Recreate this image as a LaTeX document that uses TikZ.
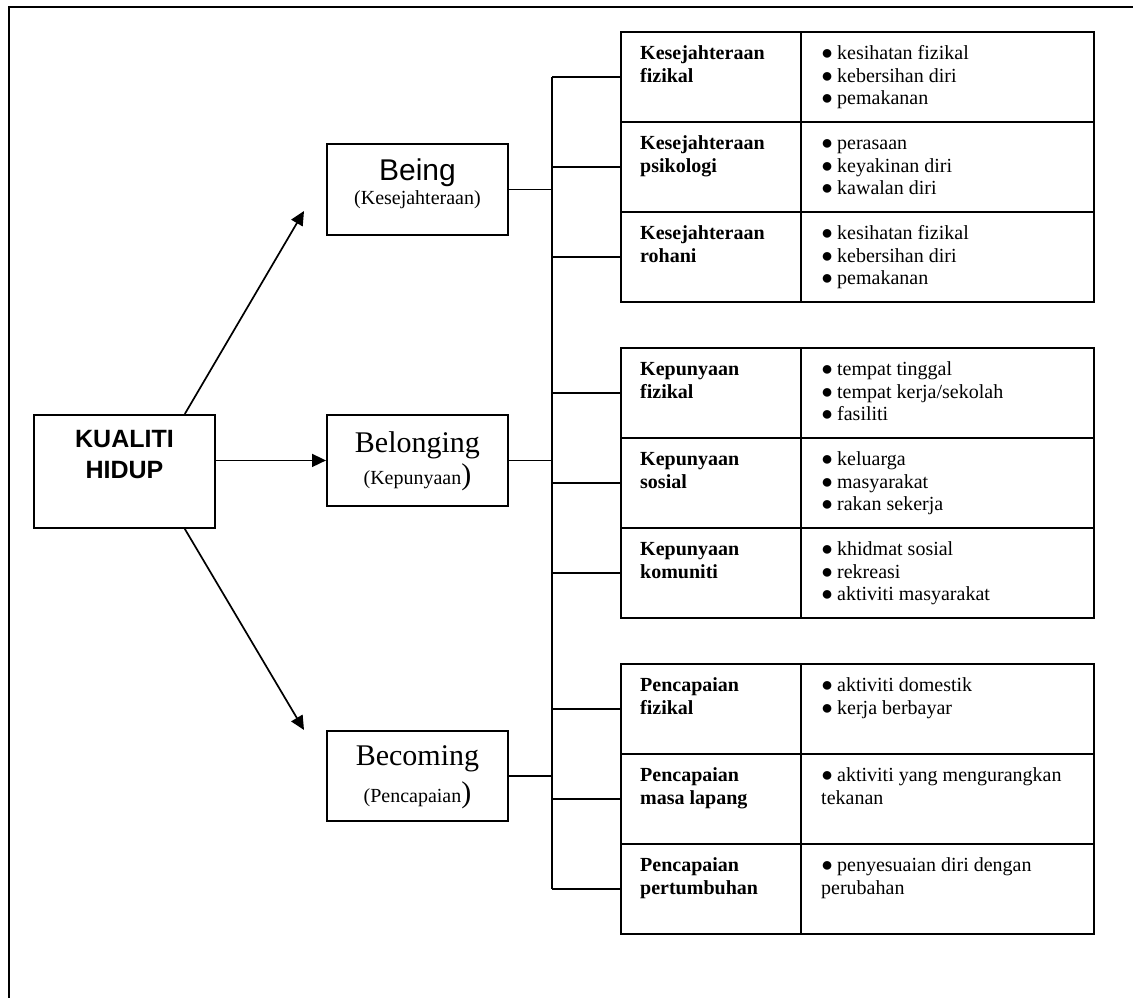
\documentclass[tikz,border=0pt]{standalone}
\usepackage{fontspec}
\usepackage{graphicx}
\setmainfont{Liberation Serif}
\newfontfamily\arialf{Liberation Sans}
\usetikzlibrary{arrows.meta,calc}
\newcommand\bl{\makebox[16pt][l]{●}}
\newcommand\rowcells[4]{%
  \node[lab] (#1a) at (620,#2) {};
  \node[itm] (#1b) at (800,#2) {};
  \foreach \t [count=\i] in {#3} \node[btxt] (#1a\i) at ($(#1a.north west)+(20,28.3+23.5*\i-23.5)$) {\t};
  \foreach \t [count=\i] in {#4} \node[txt] (#1b\i) at ($(#1b.north west)+(21,28.3+22.8*\i-22.8)$) {\t};
}
\begin{document}
\begin{tikzpicture}[x=1pt,y=-1pt,
  box/.style={draw,line width=1.9pt,inner sep=0pt,minimum width=181pt,minimum height=91pt,anchor=north west},
  lab/.style={draw,line width=2pt,inner sep=0pt,minimum width=180pt,minimum height=90pt,anchor=north west},
  itm/.style={draw,line width=2pt,inner sep=0pt,minimum width=293pt,minimum height=90pt,anchor=north west},
  txt/.style={inner sep=0pt,anchor=base west,font=\fontsize{20}{23}\selectfont},
  btxt/.style={inner sep=0pt,anchor=base west,font=\fontsize{20}{23}\selectfont\bfseries},
  ctr/.style={inner sep=0pt,anchor=base},
  conn/.style={line width=1.8pt},
  arr/.style={line width=1.7pt,-{Triangle[length=14pt,width=13pt]}}]
\useasboundingbox (0,0) rectangle (1133,998);
% outer frame (only top and left edges visible)
\draw[line width=2.2pt] (9,998) -- (9,7) -- (1133,7);

% main box
\node[box,minimum height=113pt] (kq) at (33,414) {};
\node[ctr,font=\arialf\bfseries\fontsize{25}{30}\selectfont] (kq1) at ($(kq.north)+(0,33)$) {KUALITI};
\node[ctr,font=\arialf\bfseries\fontsize{25}{30}\selectfont] (kq2) at ($(kq.north)+(0,64)$) {HIDUP};

% middle boxes
\node[box] (being) at (326,143) {};
\node[ctr,font=\arialf\fontsize{30}{36}\selectfont] (being1) at ($(being.north)+(0,37)$) {Being};
\node[ctr,font=\fontsize{20}{24}\selectfont] (being2) at ($(being.north)+(0,61)$) {(Kesejahteraan)};

\node[box] (bel) at (326,414) {};
\node[ctr,font=\fontsize{30}{36}\selectfont] (bel1) at ($(bel.north)+(0,38)$) {Belonging};
\node[ctr] (bel2) at ($(bel.north)+(0,70)$) {{\fontsize{20}{24}\selectfont(Kepunyaan}{\fontsize{30}{36}\selectfont)}};

\node[box,minimum height=90pt] (bec) at (326,730) {};
\node[ctr,font=\fontsize{30}{36}\selectfont] (bec1) at ($(bec.north)+(0,35)$) {Becoming};
\node[ctr] (bec2) at ($(bec.north)+(0,72)$) {{\fontsize{20}{24}\selectfont(Pencapaian}{\fontsize{30}{36}\selectfont)}};

% arrows
\coordinate (tipA) at (304,211);
\coordinate (tipB) at (304,730);
\draw[arr] ($(kq.north west)!0.83!(kq.north east)$) -- (tipA);
\draw[arr] ($(kq.south west)!0.83!(kq.south east)$) -- (tipB);
\draw[arr] (kq.east |- bel.west) -- (bel.west);

% tables
\rowcells{ta}{31}{Kesejahteraan,fizikal}{\bl kesihatan fizikal,\bl kebersihan diri,\bl pemakanan}
\rowcells{tb}{121}{Kesejahteraan,psikologi}{\bl perasaan,\bl keyakinan diri,\bl kawalan diri}
\rowcells{tc}{211}{Kesejahteraan,rohani}{\bl kesihatan fizikal,\bl kebersihan diri,\bl pemakanan}

\rowcells{td}{347}{Kepunyaan,fizikal}{\bl tempat tinggal,\bl tempat kerja/sekolah,\bl fasiliti}
\rowcells{te}{437}{Kepunyaan,sosial}{\bl keluarga,\bl masyarakat,\bl rakan sekerja}
\rowcells{tf}{527}{Kepunyaan,komuniti}{\bl khidmat sosial,\bl rekreasi,\bl aktiviti masyarakat}

\rowcells{tg}{663}{Pencapaian,fizikal}{\bl aktiviti domestik,\bl kerja berbayar}
\rowcells{th}{753}{Pencapaian,masa lapang}{\bl aktiviti yang mengurangkan,tekanan}
\rowcells{ti}{843}{Pencapaian,pertumbuhan}{\bl penyesuaian diri dengan,perubahan}

% trunk and branches
\coordinate (trunk) at (552,76);
\draw[conn] (taa.west -| trunk) -- (tia.west -| trunk);
\foreach \r in {ta,tb,tc,td,te,tf,tg,th,ti}
  \draw[conn] (\r a.west) -- (\r a.west -| trunk);
\draw[conn] (being.east) -- (being.east -| trunk);
\draw[conn] (bel.east) -- (bel.east -| trunk);
\draw[conn] (bec.east) -- (bec.east -| trunk);
\end{tikzpicture}
\end{document}
